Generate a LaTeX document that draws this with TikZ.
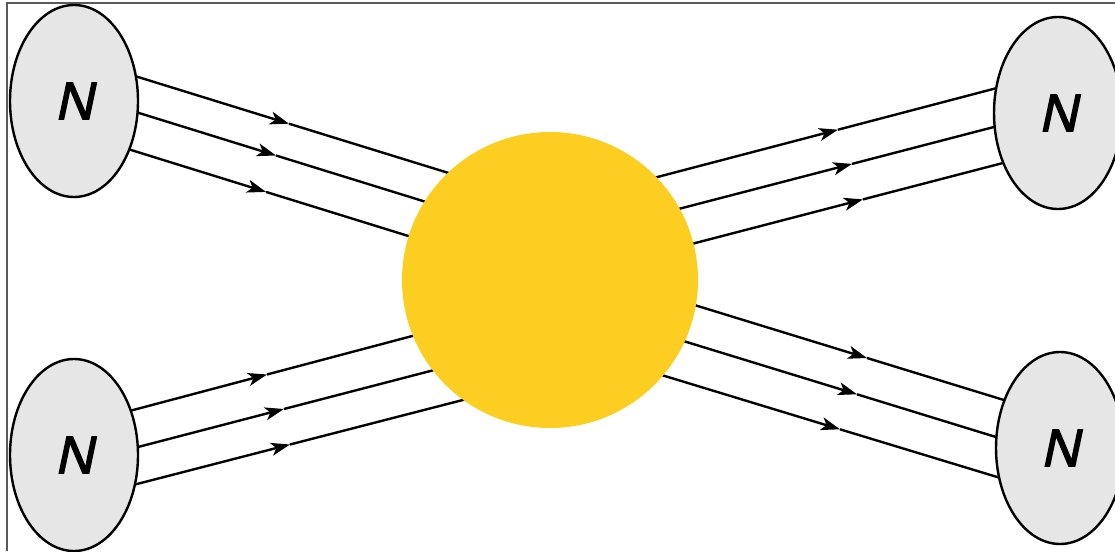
\documentclass[tikz,border=0pt]{standalone}
\usepackage{fontspec}
\setmainfont{Liberation Sans}
\newfontfamily\nfont[FakeBold=2.4,FakeSlant=0.21]{Liberation Sans}
\usetikzlibrary{shapes.geometric,arrows.meta}
\definecolor{nodegray}{RGB}{230,230,230}
\definecolor{sunyellow}{RGB}{253,206,34}
\definecolor{framegray}{RGB}{90,90,90}
\tikzset{
  nucleus/.style={ellipse, draw=black, line width=2.4pt, fill=nodegray, minimum width=128pt, minimum height=192pt, inner sep=0pt, font=\fontsize{53}{60}\nfont},
  blob/.style={circle, fill=sunyellow, minimum size=296pt, inner sep=0pt},
  flow/.style={line width=2.4pt},
  flowarr/.style={line width=2.4pt, -{Stealth[length=19pt,width=13pt,inset=5pt]}},
}
\begin{document}
\begin{tikzpicture}[x=1pt,y=-1pt]
\useasboundingbox (0,0) rectangle (1115,551);
\draw[framegray, line width=1.2pt] (7,551) -- (7,3) -- (1115,3);
% top-left
\coordinate (a1s) at (130,74.5); \coordinate (a1t) at (289,123.7); \coordinate (a1e) at (470,179.6);
\coordinate (a2s) at (130,110.2); \coordinate (a2t) at (276,155.5); \coordinate (a2e) at (460,212.5);
\coordinate (a3s) at (124,147.8); \coordinate (a3t) at (266,191.9); \coordinate (a3e) at (450,248.9);
% bottom-left
\coordinate (b1s) at (126,411.9); \coordinate (b1t) at (267,374.5); \coordinate (b1e) at (450,326);
\coordinate (b2s) at (130,449.1); \coordinate (b2t) at (284,409); \coordinate (b2e) at (470,360.7);
\coordinate (b3s) at (130,485.8); \coordinate (b3t) at (290,444.5); \coordinate (b3e) at (490,393);
% top-right
\coordinate (c1s) at (620,186.8); \coordinate (c1t) at (838,129.7); \coordinate (c1e) at (1005,85.9);
\coordinate (c2s) at (640,219); \coordinate (c2t) at (852,163.9); \coordinate (c2e) at (1002,124.9);
\coordinate (c3s) at (650,254.8); \coordinate (c3t) at (863,199.4); \coordinate (c3e) at (1011,160.9);
% bottom-right
\coordinate (d1s) at (640,288.3); \coordinate (d1t) at (867,358); \coordinate (d1e) at (1012,402.5);
\coordinate (d2s) at (640,327.7); \coordinate (d2t) at (857,394.3); \coordinate (d2e) at (1004,439.5);
\coordinate (d3s) at (630,365.4); \coordinate (d3t) at (840,429.3); \coordinate (d3e) at (1005,479.4);
\foreach \p in {a1,a2,a3,b1,b2,b3,c1,c2,c3,d1,d2,d3}{
  \draw[flowarr] (\p s) -- (\p t);
  \draw[flow] (\p t) -- (\p e);
}
\node[nucleus] (ntl) at (74,101) {N};
\node[nucleus] (nbl) at (74,455) {N};
\node[nucleus] (ntr) at (1058,113) {N};
\node[nucleus] (nbr) at (1060,448) {N};
\node[blob] (core) at (550,280) {};
\end{tikzpicture}
\end{document}
